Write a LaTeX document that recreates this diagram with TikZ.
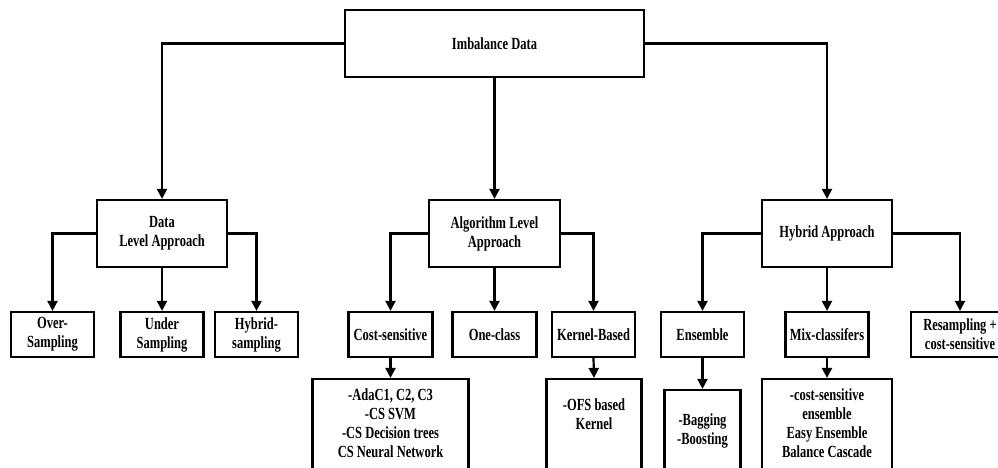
\documentclass[tikz,border=0pt]{standalone}
\usepackage{fontspec}
\setmainfont[FakeStretch=0.735]{Liberation Serif}
\usetikzlibrary{arrows.meta}
\begin{document}
\begin{tikzpicture}[x=1pt,y=-1pt,
  lbl/.style={inner sep=0pt,align=center,font=\fontsize{17}{19}\selectfont\bfseries},
  box/.style={lbl,draw,line width=2.2pt},
  arr/.style={draw,line width=2.2pt,-{Triangle[width=10pt,length=10pt]}}]
\useasboundingbox (0,0) rectangle (998,468);
\clip (0,0) rectangle (998,468);
% level 1
\node[box,minimum width=299pt,minimum height=67pt] (root) at (494.5,43.5) {Imbalance Data};
% level 2
\node[box,minimum width=130pt,minimum height=67pt] (data) at (162,233.5) {Data\\Level Approach};
\node[box,minimum width=131pt,minimum height=67pt] (algo) at (494.5,233.5) {Algorithm Level\\Approach};
\node[box,minimum width=130pt,minimum height=67pt] (hyb) at (827,233.5) {Hybrid Approach};
% level 3
\node[box,minimum width=83pt,minimum height=45pt] (over) at (52.5,334.5) {Over-\\Sampling};
\node[box,minimum width=83pt,minimum height=45pt] (under) at (162,334.5) {Under\\Sampling};
\node[box,minimum width=83pt,minimum height=45pt] (hsamp) at (256.5,334.5) {Hybrid-\\sampling};
\node[box,minimum width=84pt,minimum height=45pt] (cost) at (390.5,334.5) {Cost-sensitive};
\node[box,minimum width=84pt,minimum height=45pt] (one) at (494.5,334.5) {One-class};
\node[box,minimum width=83pt,minimum height=45pt] (kern) at (593.5,334.5) {Kernel-Based};
\node[box,minimum width=83pt,minimum height=45pt] (ens) at (702.5,334.5) {Ensemble};
\node[box,minimum width=83pt,minimum height=45pt] (mix) at (827,334.5) {Mix-classifers};
\node[box,minimum width=98pt,minimum height=45pt] (res) at (960,334.5) {Resampling +\\cost-sensitive};
% level 4 boxes (extend below the picture's lower edge)
\node[box,minimum width=156pt,minimum height=94pt] (costd) at (390.5,426) {};
\node[box,minimum width=95pt,minimum height=94pt] (kernd) at (594,426) {};
\node[box,minimum width=76pt,minimum height=84pt] (ensd) at (702.5,432) {};
\node[box,minimum width=130pt,minimum height=94pt] (mixd) at (827,426) {};
% level 4 texts
\node[lbl] (costt) at (390.5,423.5) {-AdaC1, C2, C3\\-CS SVM\\-CS Decision trees\\CS Neural Network};
\node[lbl] (kernt) at (594,414) {-OFS based\\Kernel};
\node[lbl] (enst) at (702.5,430.5) {-Bagging\\-Boosting};
\node[lbl] (mixt) at (827,423.5) {-cost-sensitive\\ensemble\\Easy Ensemble\\Balance Cascade};
% connectors
\draw[arr] (root.west) -| (data.north);
\draw[arr] (root.south) -- (algo.north);
\draw[arr] (root.east) -| (hyb.north);
\draw[arr] (data.west) -| (over.north);
\draw[arr] (data.south) -- (under.north);
\draw[arr] (data.east) -| (hsamp.north);
\draw[arr] (algo.west) -| (cost.north);
\draw[arr] (algo.south) -- (one.north);
\draw[arr] (algo.east) -| (kern.north);
\draw[arr] (hyb.west) -| (ens.north);
\draw[arr] (hyb.south) -- (mix.north);
\draw[arr] (hyb.east) -| (res.north);
\draw[arr] (cost.south) -- (costd.north);
\draw[arr] (kern.south) -- (kernd.north);
\draw[arr] (ens.south) -- (ensd.north);
\draw[arr] (mix.south) -- (mixd.north);
\end{tikzpicture}
\end{document}
